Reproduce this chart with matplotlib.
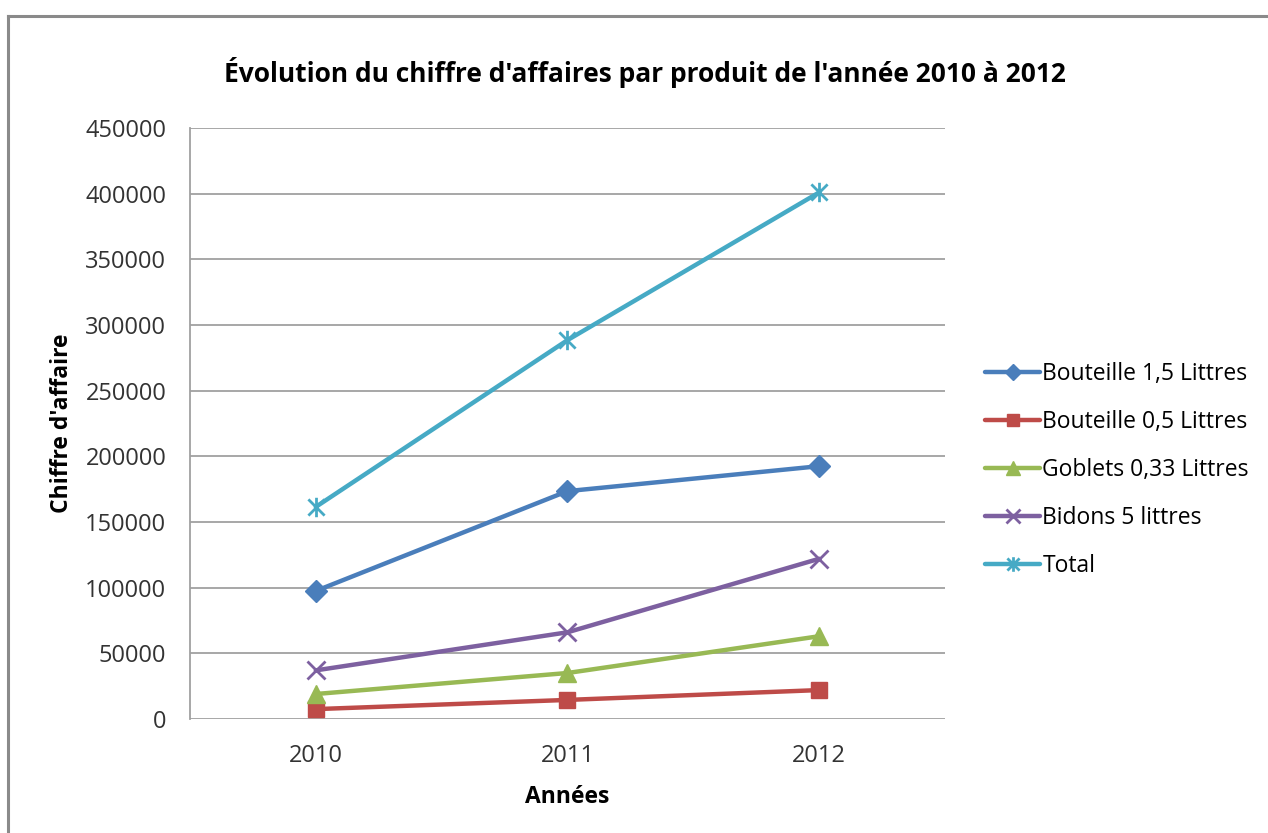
import matplotlib.pyplot as plt
from matplotlib.lines import Line2D
from matplotlib.path import Path

plt.rcParams['font.family'] = ['Open Sans', 'DejaVu Sans']

years = ['2010', '2011', '2012']
bouteille_15 = [97500, 173500, 192500]
bouteille_05 = [7500, 14500, 22000]
goblets_033 = [19000, 35000, 63000]
bidons_5 = [37000, 66000, 122000]
total = [161500, 288500, 401000]

labels = ['Bouteille 1,5 Littres', 'Bouteille 0,5 Littres',
          'Goblets 0,33 Littres', 'Bidons 5 littres', 'Total']
series = [bouteille_15, bouteille_05, goblets_033, bidons_5, total]

# x with a vertical bar, like the office "star" marker
star_marker = Path([(-1, -1), (1, 1), (-1, 1), (1, -1), (0, -1.2), (0, 1.2)],
                   [Path.MOVETO, Path.LINETO, Path.MOVETO, Path.LINETO,
                    Path.MOVETO, Path.LINETO])

colors = ['#4A7EBB', '#BE4B48', '#98B954', '#7D60A0', '#46AAC5']
markers = ['D', 's', '^', 'x', star_marker]
msizes = [11, 12, 13, 13, 14]

fig = plt.figure(figsize=(12.68, 8.33), dpi=100)
ax = fig.add_axes([0.1498, 0.1369, 0.5955, 0.7094])

x = range(len(years))
for vals, lab, c, m, ms in zip(series, labels, colors, markers, msizes):
    thin = m == 'x' or m is star_marker
    ax.plot(x, vals, color=c, lw=3.2, marker=m, markersize=ms,
            markeredgewidth=2 if thin else 1,
            markeredgecolor=c, markerfacecolor=c, label=lab,
            solid_capstyle='round')

ax.set_xlim(-0.5, 2.5)
ax.set_ylim(0, 450000)
ax.set_yticks(range(0, 450001, 50000))
ax.set_xticks(list(x))
ax.set_xticklabels(years)
ax.tick_params(axis='both', length=0, labelsize=17, labelcolor='#333333')
ax.tick_params(axis='y', pad=17)
ax.tick_params(axis='x', pad=18)
ax.yaxis.grid(True, color='#A0A0A0', lw=1.3)
ax.set_axisbelow(True)
for s in ['top', 'right', 'bottom']:
    ax.spines[s].set_visible(False)
ax.spines['left'].set_color('#A0A0A0')
ax.spines['left'].set_linewidth(1.3)

ax.set_xlabel('Années', fontsize=16.5, fontweight='bold', labelpad=12)
ax.set_ylabel("Chiffre d'affaire", fontsize=16.5, fontweight='bold', labelpad=8)
fig.text(0.509, 0.913, "Évolution du chiffre d'affaires par produit de l'année 2010 à 2012",
         ha='center', va='center', fontsize=19, fontweight='bold')

ax.legend(loc='center left', bbox_to_anchor=(1.053, 0.421), frameon=False,
          borderaxespad=0, borderpad=0,
          fontsize=16.5, handlelength=2.4, handletextpad=0.1, labelspacing=1.05,
          markerscale=0.75)

# outer chart border (left and top edges)
fig.add_artist(Line2D([8 / 1268, 8 / 1268], [0, 1 - 16 / 833], color='#8A8A8A', lw=2.2))
fig.add_artist(Line2D([8 / 1268, 1], [1 - 16 / 833, 1 - 16 / 833], color='#8A8A8A', lw=2.2))

fig.savefig('out.png', dpi=100)
